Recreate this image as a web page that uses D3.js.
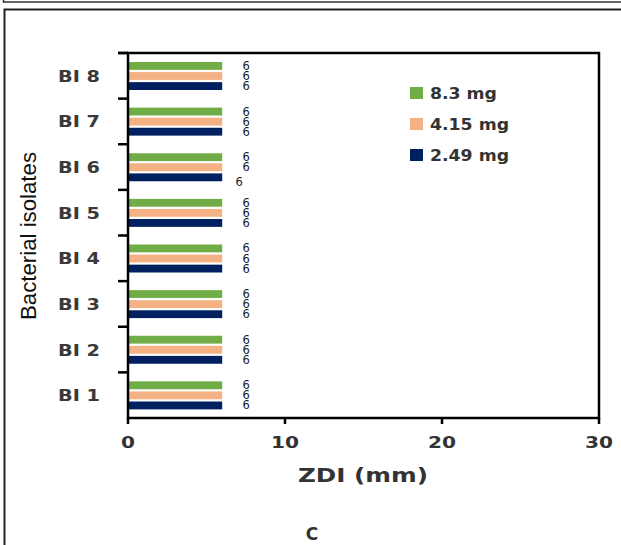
<!DOCTYPE html>
<html><head><meta charset="utf-8">
<script src="https://cdn.jsdelivr.net/npm/d3@7/dist/d3.min.js"></script>
<style>body{margin:0;background:#fff}svg{display:block}</style>
</head><body>
<svg id="c" width="621" height="545"></svg>
<script>
const categories = ["BI 1","BI 2","BI 3","BI 4","BI 5","BI 6","BI 7","BI 8"];
const seriesNames = ["8.3 mg","4.15 mg","2.49 mg"];
const v83  = [6,6,6,6,6,6,6,6];
const v415 = [6,6,6,6,6,6,6,6];
const v249 = [6,6,6,6,6,6,6,6];
const xTicks = [0,10,20,30];
const colors = ["#70ad47","#f4b183","#002060"];
const seriesVals = [v83, v415, v249];

const svg = d3.select("#c");
const L = 128, R = 599, T = 53, B = 418;
const x = d3.scaleLinear().domain([0,30]).range([L,R]);
const y0 = d3.scaleBand().domain(categories).range([B,T]).padding(0);
const y1 = d3.scaleBand().domain(seriesNames).range([9,37]).paddingInner(0.22);

// outer frames
svg.append("line").attr("x1",3).attr("x2",621).attr("y1",2).attr("y2",2).attr("stroke","#333").attr("stroke-width",1.5);
svg.append("line").attr("x1",3.5).attr("x2",3.5).attr("y1",0).attr("y2",2.5).attr("stroke","#333").attr("stroke-width",1.5);
svg.append("path").attr("d","M4.5,548 V9.5 H625").attr("fill","none").attr("stroke","#222").attr("stroke-width",2);

// bars
const g = svg.append("g");
categories.forEach((c,i)=>{
  seriesNames.forEach((s,j)=>{
    const v = seriesVals[j][i];
    const yy = y0(c) + y1(s);
    g.append("rect").attr("x",x(0)).attr("y",yy).attr("width",x(v)-x(0)).attr("height",y1.bandwidth()).attr("fill",colors[j]);
    let lx = x(v)+24, ly = yy + y1.bandwidth()/2 + 4;
    if (c==="BI 6" && j===2){ lx -= 7; ly += 5; }
    g.append("text").attr("x",lx).attr("y",ly).attr("text-anchor","middle")
      .attr("font-family","DejaVu Sans").attr("font-size",11.5).attr("fill","#222").text(v);
  });
});

// axes frame
const ax = svg.append("g").attr("stroke","#000").attr("stroke-width",2.5).attr("fill","none");
ax.append("rect").attr("x",L).attr("y",T).attr("width",R-L).attr("height",B-T);
const yb = categories.map(c=>y0(c)).concat([T]);
yb.forEach(yy=>ax.append("line").attr("x1",L-10).attr("x2",L).attr("y1",yy).attr("y2",yy));
xTicks.forEach(t=>ax.append("line").attr("x1",x(t)).attr("x2",x(t)).attr("y1",B).attr("y2",B+6));

const bold = "DejaVu Sans";
xTicks.forEach(t=>{
  const s = String(t);
  svg.append("text").attr("x",x(t)).attr("y",448).attr("text-anchor","middle")
    .attr("font-family",bold).attr("font-weight","bold").attr("font-size",16).attr("fill","#333")
    .attr("textLength", s.length*14).attr("lengthAdjust","spacingAndGlyphs").text(s);
});
categories.forEach(c=>{
  svg.append("text").attr("x",100).attr("y",y0(c)+y0.bandwidth()/2+6).attr("text-anchor","end")
    .attr("font-family",bold).attr("font-weight","bold").attr("font-size",16).attr("fill","#3a3a3a")
    .attr("textLength",42).attr("lengthAdjust","spacingAndGlyphs").text(c);
});
svg.append("text").attr("x",363).attr("y",482).attr("text-anchor","middle")
  .attr("font-family",bold).attr("font-weight","bold").attr("font-size",19).attr("fill","#333")
  .attr("textLength",130).attr("lengthAdjust","spacingAndGlyphs").text("ZDI (mm)");
svg.append("text").attr("transform","translate(36,236) rotate(-90)").attr("text-anchor","middle")
  .attr("font-family","Liberation Sans Narrow, Liberation Sans").attr("font-size",22).attr("fill","#111")
  .attr("textLength",168).attr("lengthAdjust","spacingAndGlyphs").text("Bacterial isolates");
svg.append("text").attr("x",312).attr("y",540).attr("text-anchor","middle")
  .attr("font-family",bold).attr("font-weight","bold").attr("font-size",17).attr("fill","#333").text("C");

seriesNames.forEach((s,j)=>{
  const cy = 93 + j*31;
  svg.append("rect").attr("x",410).attr("y",cy-6).attr("width",13).attr("height",12).attr("fill",colors[j]);
  svg.append("text").attr("x",430).attr("y",cy+6).attr("font-family",bold).attr("font-weight","bold")
    .attr("font-size",16).attr("fill","#333").attr("textLength", s.length===6?67:79).attr("lengthAdjust","spacingAndGlyphs").text(s);
});
</script>
</body></html>
